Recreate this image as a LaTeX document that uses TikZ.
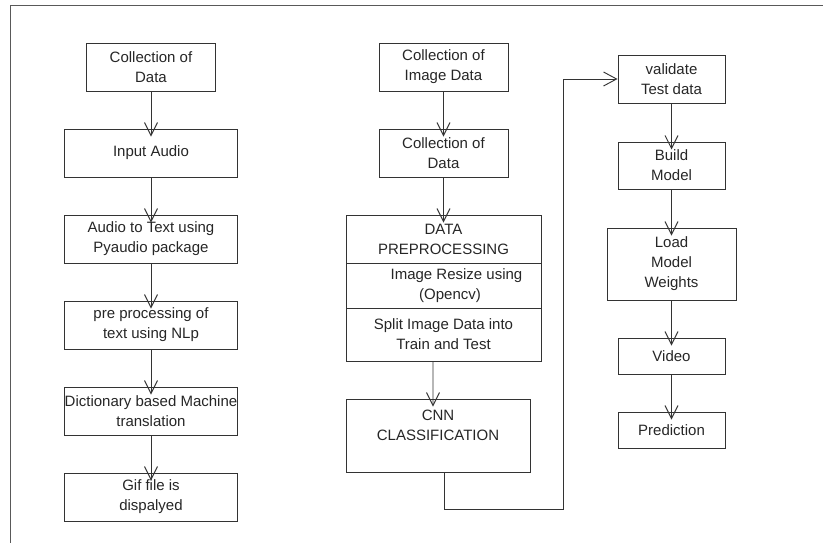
\documentclass[tikz,border=0pt]{standalone}
\usepackage{fontspec}
\setmainfont{Liberation Sans}
\usetikzlibrary{arrows.meta,positioning}

\begin{document}
\begin{tikzpicture}[
	box/.style={draw=black!80, line width=0.8pt, align=center, minimum height=1.44cm, inner sep=0pt, text=black!85, font=\fontsize{12.8pt}{17pt}\selectfont},
	flow/.style={draw=black!80, line width=0.8pt, -{Straight Barb[length=0.39cm, width=0.39cm]}, shorten >=-0.24cm},
	back/.style={draw=black!80, line width=0.8pt, -{Straight Barb[length=0.39cm, width=0.42cm]}},
]
	\useasboundingbox (0,0) rectangle (24.69,16.29);
	\draw[line width=1.4pt, black!65] (0.315,0) -- (0.315,16.125) -- (24.69,16.125);

	% audio side
	\node[box, minimum width=3.87cm] (col) at (4.53,14.28) {Collection of\\Data};
	\node[box, minimum width=5.19cm] (audio) at (4.53,11.70) {Input Audio};
	\node[box, minimum width=5.19cm] (totext) at (4.53,9.12) {Audio to Text using\\Pyaudio package};
	\node[box, minimum width=5.19cm] (nlp) at (4.53,6.54) {pre processing of\\text using NLp};
	\node[box, minimum width=5.19cm] (dict) at (4.53,3.96) {\makebox[0pt]{Dictionary based Machine}\\translation};
	\node[box, minimum width=5.19cm] (gif) at (4.53,1.38) {Gif file is\\dispalyed};
	\draw[flow] (col) -- (audio);
	\draw[flow] (audio) -- (totext);
	\draw[flow] (totext) -- (nlp);
	\draw[flow] (nlp) -- (dict);
	\draw[flow] (dict) -- (gif);

	% image side
	\node[box, minimum width=3.87cm] (imgdata) at (13.305,14.28) {Collection of\\Image Data};
	\node[box, minimum width=3.87cm] (coldata) at (13.305,11.70) {Collection of\\Data};
	\node[box, minimum width=5.85cm] (pretitle) at (13.305,9.12) {DATA\\PREPROCESSING};
	\node[box, minimum width=5.85cm, minimum height=1.35cm] (preresize) at (13.305,7.725) {\hspace*{0.78cm}Image Resize using\\\hspace*{0.39cm}(Opencv)};
	\node[box, minimum width=5.85cm, minimum height=1.59cm] (presplit) at (13.305,6.255) {Split Image Data into\\Train and Test};
	\node[box, minimum width=5.52cm, minimum height=2.19cm] (cnn) at (13.14,3.225) {CNN\\CLASSIFICATION\\\mbox{}};
	\draw[flow] (imgdata) -- (coldata);
	\draw[flow] (coldata) -- (pretitle);
	\draw[flow] ([xshift=-0.315cm]presplit.south) -- ([xshift=-0.15cm]cnn.north);

	% model side
	\node[box, minimum width=3.21cm] (val) at (20.145,13.92) {validate\\Test data};
	\node[box, minimum width=3.21cm, minimum height=1.41cm] (build) at (20.145,11.325) {Build\\Model};
	\node[box, minimum width=3.87cm, minimum height=2.16cm] (load) at (20.145,8.37) {Load\\Model\\Weights};
	\node[box, minimum width=3.21cm, minimum height=1.08cm] (video) at (20.145,5.61) {Video};
	\node[box, minimum width=3.21cm, minimum height=1.08cm] (pred) at (20.145,3.39) {Prediction};
	\draw[flow] (val) -- (build);
	\draw[flow] (build) -- (load);
	\draw[flow] (load) -- (video);
	\draw[flow] (video) -- (pred);

	\coordinate (turn) at (16.89,1.02);
	\draw[back] ([xshift=0.18cm]cnn.south) |- (turn) |- (val.west);
\end{tikzpicture}
\end{document}
